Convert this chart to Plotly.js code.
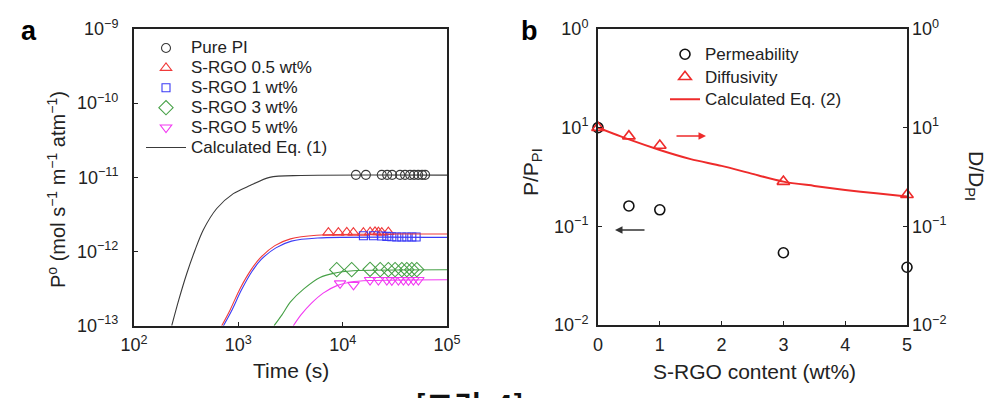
<!DOCTYPE html>
<html>
<head>
<meta charset="utf-8">
<script src="https://cdn.plot.ly/plotly-3.0.1.min.js"></script>
<style>html,body{margin:0;padding:0;background:#fff;}#chart{width:1000px;height:398px;}</style>
</head>
<body>
<div id="chart"></div>
<script>
// ---------- Panel a : measured points ----------
const pureT  = [13400, 16700, 23700, 26700, 29800, 35500, 39600, 44300, 48400, 52900, 57700, 61700];
const pureP  = [1.08e-11, 1.08e-11, 1.08e-11, 1.08e-11, 1.08e-11, 1.08e-11, 1.08e-11, 1.08e-11, 1.08e-11, 1.08e-11, 1.08e-11, 1.08e-11];
const s05T   = [7300, 9100, 10950, 12670, 15800, 18330, 20420, 22000, 23700, 27400];
const s05P   = [1.80e-12, 1.80e-12, 1.81e-12, 1.80e-12, 1.79e-12, 1.82e-12, 1.84e-12, 1.82e-12, 1.80e-12, 1.83e-12];
const s1T    = [15800, 19700, 23700, 26500, 29600, 33000, 36900, 41200, 46000, 50600];
const s1P    = [1.63e-12, 1.63e-12, 1.62e-12, 1.60e-12, 1.58e-12, 1.57e-12, 1.57e-12, 1.57e-12, 1.57e-12, 1.57e-12];
const s3T    = [8770, 12200, 18300, 22900, 27400, 31800, 36900, 41200, 46000, 51400];
const s3P    = [5.7e-13, 5.7e-13, 5.75e-13, 5.7e-13, 5.7e-13, 5.7e-13, 5.7e-13, 5.7e-13, 5.7e-13, 5.7e-13];
const s5T    = [9440, 12700, 18300, 22000, 26500, 29600, 34200, 38200, 42700, 47600, 53200];
const s5P    = [3.72e-13, 3.55e-13, 4.13e-13, 4.13e-13, 4.13e-13, 4.10e-13, 4.13e-13, 4.13e-13, 4.10e-13, 4.13e-13, 4.13e-13];

// ---------- Panel a : calculated curves ----------
const calcPureT = [230, 269, 320, 385, 461, 621, 895, 1294, 1995, 3981, 100000];
const calcPureP = [1e-13, 2.24e-13, 5.01e-13, 1.05e-12, 1.95e-12, 3.80e-12, 6.03e-12, 7.76e-12, 1.0e-11, 1.06e-11, 1.07e-11];
const calc05T = [693, 832, 1038, 1318, 1614, 2239, 3162, 5623, 100000];
const calc05P = [1e-13, 1.62e-13, 3.16e-13, 5.62e-13, 8.13e-13, 1.20e-12, 1.48e-12, 1.66e-12, 1.72e-12];
const calc1T  = [720, 860, 1070, 1350, 1650, 2290, 3230, 5750, 100000];
const calc1P  = [1e-13, 1.58e-13, 3.02e-13, 5.37e-13, 7.76e-13, 1.12e-12, 1.38e-12, 1.52e-12, 1.55e-12];
const calc3T  = [2200, 2630, 3160, 4270, 6070, 8150, 12600, 100000];
const calc3P  = [1e-13, 1.41e-13, 2.09e-13, 3.16e-13, 4.47e-13, 5.08e-13, 5.5e-13, 5.69e-13];
const calc5T  = [3365, 4000, 5000, 6500, 8800, 12000, 18000, 100000];
const calc5P  = [1e-13, 1.41e-13, 2.0e-13, 2.75e-13, 3.47e-13, 3.89e-13, 4.07e-13, 4.17e-13];

// ---------- Panel b ----------
const content   = [0, 0.5, 1, 3, 5];
const permRatio = [1.0, 0.161, 0.147, 0.054, 0.0385];
const diffRatio = [1.0, 0.82, 0.66, 0.284, 0.209];
const calc2X    = [0, 0.5, 1, 1.5, 2, 2.5, 3, 3.5, 4, 4.5, 5];
const calc2Y    = [1.0, 0.76, 0.594, 0.48, 0.41, 0.34, 0.284, 0.257, 0.234, 0.216, 0.2];

// ---------- Tick labels ----------
const aXTickVals = [100, 1000, 10000, 100000];
const aXTickText = ['10<sup>2</sup>', '10<sup>3</sup>', '10<sup>4</sup>', '10<sup>5</sup>'];
const aYTickVals = [1e-13, 1e-12, 1e-11, 1e-10, 1e-9];
const aYTickText = ['10<sup>−13</sup>', '10<sup>−12</sup>', '10<sup>−11</sup>', '10<sup>−10</sup>', '10<sup>−9</sup>'];
const bXTickVals = [0, 1, 2, 3, 4, 5];
const bYTickVals = [0.01, 0.1, 1, 10];
const bYTickText = ['10<sup>−2</sup>', '10<sup>−1</sup>', '10<sup>1</sup>', '10<sup>0</sup>'];

const FONT = 'Liberation Sans, Arial, Helvetica, sans-serif';
const INK = '#222';
const RED = '#f03a3a', BLUE = '#3b3bf5', GREEN = '#46a046', MAG = '#f23af2', GREY = '#3a3a3a';

function lg(name, px) { return '<span style="font-size:' + px + 'px">' + name + '</span>'; }

function mk(x, y, name, sym, color, size, xa, ya, leg, lw) {
  return {x: x, y: y, name: name, type: 'scatter', mode: 'markers', xaxis: xa, yaxis: ya,
    legend: leg, cliponaxis: false,
    marker: {symbol: sym, size: size, color: color, line: {color: color, width: lw || 1.1}}};
}
function ln(x, y, name, color, width, xa, ya, leg, show) {
  return {x: x, y: y, name: name, type: 'scatter', mode: 'lines', xaxis: xa, yaxis: ya,
    legend: leg, showlegend: show, line: {color: color, width: width, shape: 'spline', smoothing: 0.8}};
}

const traces = [
  mk(pureT, pureP, lg('Pure PI', 17), 'circle-open', GREY, 9, 'x', 'y', 'legend'),
  mk(s05T, s05P, lg('S-RGO 0.5 wt%', 17), 'triangle-up-open', RED, 10, 'x', 'y', 'legend'),
  mk(s1T, s1P, lg('S-RGO 1 wt%', 17), 'square-open', BLUE, 8, 'x', 'y', 'legend'),
  mk(s3T, s3P, lg('S-RGO 3 wt%', 17), 'diamond-open', GREEN, 11, 'x', 'y', 'legend'),
  mk(s5T, s5P, lg('S-RGO 5 wt%', 17), 'triangle-down-open', MAG, 10, 'x', 'y', 'legend'),
  ln(calcPureT, calcPureP, lg('Calculated Eq. (1)', 17), GREY, 1.1, 'x', 'y', 'legend', true),
  ln(calc05T, calc05P, 'c05', RED, 1.1, 'x', 'y', 'legend', false),
  ln(calc1T, calc1P, 'c1', BLUE, 1.1, 'x', 'y', 'legend', false),
  ln(calc3T, calc3P, 'c3', GREEN, 1.1, 'x', 'y', 'legend', false),
  ln(calc5T, calc5P, 'c5', MAG, 1.1, 'x', 'y', 'legend', false),
  mk(content, permRatio, lg('Permeability', 17), 'circle-open', '#111', 10, 'x2', 'y2', 'legend2', 1.6),
  mk(content, diffRatio, lg('Diffusivity', 17), 'triangle-up-open', '#ee2b2b', 11, 'x2', 'y3', 'legend2', 1.6),
  ln(calc2X, calc2Y, lg('Calculated Eq. (2)', 17), '#ee2b2b', 2, 'x2', 'y3', 'legend2', true)
];

const axBase = {showline: true, linecolor: INK, linewidth: 2, mirror: true, ticks: 'inside',
  ticklen: 4, tickwidth: 1.2, tickcolor: INK, showgrid: false, zeroline: false,
  tickfont: {family: FONT, size: 18, color: INK}};

function py(p) { return (398 - p) / 398; }
function ann(text, x, y, size, extra) {
  return Object.assign({text: text, x: x / 1000, y: py(y), xref: 'paper', yref: 'paper', showarrow: false,
    xanchor: 'center', yanchor: 'middle', font: {family: FONT, size: size, color: INK}}, extra || {});
}

const layout = {
  width: 1000, height: 398,
  margin: {l: 0, r: 0, t: 0, b: 0},
  paper_bgcolor: '#fff', plot_bgcolor: 'rgba(0,0,0,0)',
  font: {family: FONT, color: INK},
  xaxis: Object.assign({}, axBase, {domain: [0.134, 0.447], type: 'log', range: [2, 5],
    tickmode: 'array', tickvals: aXTickVals, ticktext: aXTickText, anchor: 'y', ticklabelstandoff: 2}),
  yaxis: Object.assign({}, axBase, {domain: [py(325.7), py(29)], type: 'log', range: [-13, -9],
    tickmode: 'array', tickvals: aYTickVals, ticktext: aYTickText, anchor: 'x', ticklabelstandoff: 10}),
  xaxis2: Object.assign({}, axBase, {domain: [0.598, 0.907], range: [0, 5],
    tickmode: 'array', tickvals: bXTickVals, anchor: 'y2', ticklabelstandoff: 2}),
  yaxis2: Object.assign({}, axBase, {domain: [py(325), py(29)], type: 'log', range: [-2, 1],
    tickmode: 'array', tickvals: bYTickVals, ticktext: bYTickText, anchor: 'x2', ticklabelstandoff: 4}),
  yaxis3: Object.assign({}, axBase, {overlaying: 'y2', side: 'right', showline: false, type: 'log', range: [-2, 1],
    tickmode: 'array', tickvals: bYTickVals, ticktext: bYTickText, anchor: 'x2', ticklabelstandoff: 4}),
  showlegend: true,
  legend: {x: 0.141, y: py(33), xanchor: 'left', yanchor: 'top', bgcolor: 'rgba(0,0,0,0)',
    font: {family: FONT, size: 13, color: INK}, tracegroupgap: 0, itemwidth: 40, itemclick: false},
  legend2: {x: 0.665, y: py(38), xanchor: 'left', yanchor: 'top', bgcolor: 'rgba(0,0,0,0)',
    font: {family: FONT, size: 15, color: INK}, tracegroupgap: 0, itemwidth: 30, itemclick: false},
  annotations: [
    ann('<b>a</b>', 29, 31, 27, {font: {family: FONT, size: 27, color: '#000'}}),
    ann('<b>b</b>', 529, 31, 27, {font: {family: FONT, size: 27, color: '#000'}}),
    ann('P<sup>o</sup> (mol s<sup>−1</sup> m<sup>−1</sup> atm<sup>−1</sup>)', 57, 190, 20, {textangle: -90}),
    ann('Time (s)', 291, 370, 21),
    ann('S-RGO content (wt%)', 754, 371, 21),
    ann('P/P<sub>PI</sub>', 532, 172, 21, {textangle: -90}),
    ann('D/D<sub>PI</sub>', 975, 176, 21, {textangle: 90}),
    {text: '', x: 0.706, y: py(136), xref: 'paper', yref: 'paper', showarrow: true,
      ax: -31, ay: 0, axref: 'pixel', ayref: 'pixel', arrowhead: 2, arrowsize: 1, arrowwidth: 1.5, arrowcolor: '#ee2b2b'},
    {text: '', x: 0.615, y: py(230), xref: 'paper', yref: 'paper', showarrow: true,
      ax: 31, ay: 0, axref: 'pixel', ayref: 'pixel', arrowhead: 2, arrowsize: 1, arrowwidth: 1.5, arrowcolor: '#333'},
    {text: '<b>[그림  4]</b>', x: 0.469, y: py(380), xref: 'paper', yref: 'paper', xanchor: 'center', yanchor: 'top',
      showarrow: false, font: {family: 'Noto Sans CJK KR, sans-serif', size: 30, color: '#111'}}
  ]
};

Plotly.newPlot('chart', traces, layout, {staticPlot: true, displayModeBar: false});
</script>
</body>
</html>
